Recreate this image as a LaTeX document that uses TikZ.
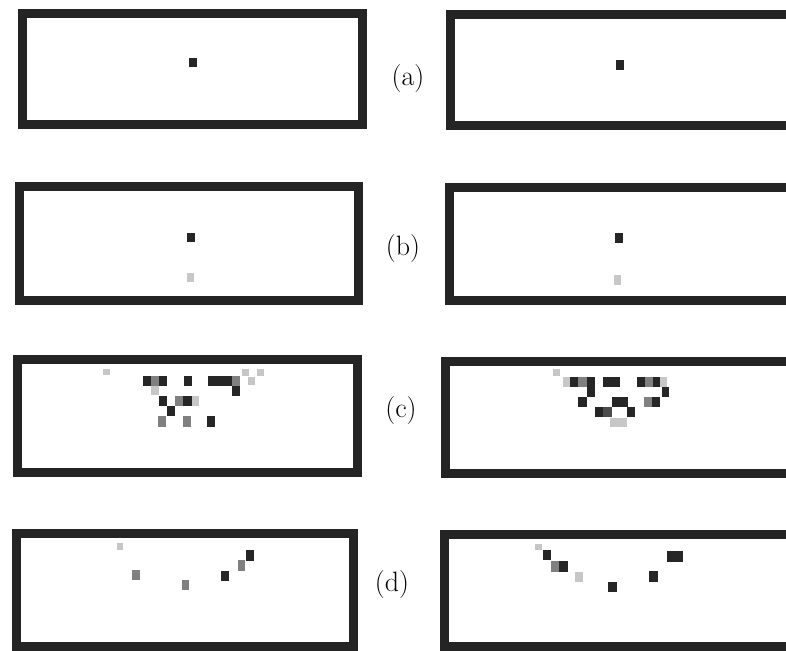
\documentclass[tikz,border=0pt]{standalone}
\usepackage{tikz}

\tikzset{
  frame/.style={draw=black!86, line width=9pt},
  dk/.style={fill=black!85},
  md/.style={fill=black!50},
  lt/.style={fill=black!22},
  tag/.style={font=\fontsize{28}{30}\selectfont, inner sep=0pt}
}
% one screen cell: style, left, top, width, height
\newcommand\pxl[5]{\fill[#1] (#2,#3) rectangle ++(#4,#5);}

\begin{document}
\begin{tikzpicture}[x=1pt, y=-1pt]
\useasboundingbox (0,0) rectangle (786,650);
\clip (0,0) rectangle (786,650);

% ---- frames ----
\draw[frame] (22.5,13.5) rectangle (362.5,124.5);
\draw[frame] (450.5,14.5) rectangle (795.5,125.5);
\draw[frame] (19.5,186.5) rectangle (358.5,300.5);
\draw[frame] (449.5,187.5) rectangle (795.5,300.5);
\draw[frame] (17.5,359.5) rectangle (357.5,472.5);
\draw[frame] (445.5,361.5) rectangle (795.5,473.5);
\draw[frame] (16.5,533.5) rectangle (353.5,646.5);
\draw[frame] (444.5,534.5) rectangle (795.5,646.5);

% ---- labels ----
\node[tag] (la) at (408,79) {(a)};
\node[tag] (lb) at (403,249) {(b)};
\node[tag] (lc) at (401,411) {(c)};
\node[tag] (ld) at (392,585) {(d)};

% ---- row (a) ----
\pxl{dk}{189}{58}{8}{9}
\pxl{dk}{616}{60}{8}{10}

% ---- row (b) ----
\pxl{dk}{187}{233}{8}{9}
\pxl{lt}{187}{273}{7}{9}
\pxl{dk}{615}{233}{8}{10}
\pxl{lt}{614}{275}{7}{10}

% ---- row (c), left ----
\pxl{lt}{103}{369}{7}{6}
\pxl{lt}{242}{369}{7}{7}
\pxl{lt}{257}{369}{7}{7}
\pxl{dk}{143}{376}{8}{10}
\pxl{md}{151}{376}{8}{10}
\pxl{dk}{159}{376}{8}{10}
\pxl{dk}{184}{376}{8}{10}
\pxl{dk}{208}{376}{24}{10}
\pxl{md}{232}{376}{8}{10}
\pxl{lt}{248}{377}{7}{8}
\pxl{lt}{151}{386}{8}{9}
\pxl{dk}{232}{386}{8}{10}
\pxl{dk}{159}{396}{8}{10}
\pxl{md}{175}{396}{8}{10}
\pxl{dk}{183}{396}{9}{10}
\pxl{lt}{192}{396}{7}{10}
\pxl{dk}{167}{406}{8}{10}
\pxl{md}{158}{416}{8}{11}
\pxl{md}{183}{416}{8}{11}
\pxl{dk}{207}{416}{8}{11}

% ---- row (c), right ----
\pxl{lt}{553}{369}{7}{7}
\pxl{lt}{563}{377}{7}{10}
\pxl{dk}{570}{377}{8}{10}
\pxl{md}{578}{377}{9}{10}
\pxl{dk}{587}{377}{8}{10}
\pxl{dk}{603}{377}{17}{10}
\pxl{dk}{637}{377}{8}{10}
\pxl{md}{645}{377}{8}{10}
\pxl{dk}{653}{377}{7}{10}
\pxl{lt}{660}{377}{7}{10}
\pxl{dk}{587}{387}{8}{10}
\pxl{dk}{662}{387}{7}{10}
\pxl{dk}{578}{397}{9}{10}
\pxl{dk}{612}{397}{16}{10}
\pxl{md}{644}{397}{8}{10}
\pxl{dk}{652}{397}{8}{10}
\pxl{dk}{595}{407}{8}{10}
\pxl{black!70}{603}{407}{9}{10}
\pxl{dk}{627}{407}{8}{10}
\pxl{lt}{610}{418}{17}{9}

% ---- row (d), left ----
\pxl{lt}{117}{543}{6}{7}
\pxl{md}{132}{570}{8}{10}
\pxl{md}{182}{580}{7}{10}
\pxl{dk}{221}{571}{8}{10}
\pxl{md}{238}{560}{7}{11}
\pxl{dk}{246}{550}{8}{11}

% ---- row (d), right ----
\pxl{lt}{535}{544}{7}{6}
\pxl{dk}{543}{550}{8}{10}
\pxl{md}{551}{561}{8}{11}
\pxl{dk}{559}{561}{9}{11}
\pxl{lt}{575}{572}{8}{10}
\pxl{dk}{608}{582}{9}{10}
\pxl{dk}{649}{571}{9}{11}
\pxl{dk}{667}{551}{16}{11}
\end{tikzpicture}
\end{document}
